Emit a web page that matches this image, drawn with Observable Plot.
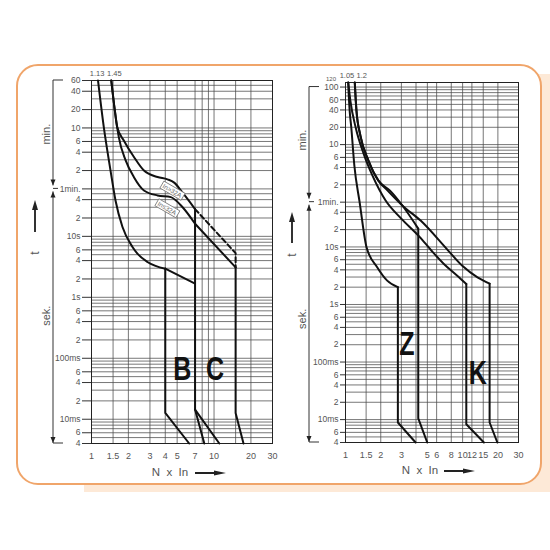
<!DOCTYPE html>
<html>
<head>
<meta charset="utf-8">
<script src="https://cdn.jsdelivr.net/npm/d3@7"></script>
<script src="https://cdn.jsdelivr.net/npm/@observablehq/plot@0.6"></script>
<style>
html,body{margin:0;padding:0;background:#fff;}
#wrap{position:relative;width:550px;height:550px;overflow:hidden;}
#shadow{position:absolute;left:84px;top:74px;width:466px;height:418px;background:#fde9d7;}
#box{position:absolute;left:16px;top:64px;width:526px;height:421px;box-sizing:border-box;border:2px solid #f0a56a;border-radius:22px;background:#fff;}
.chart{position:absolute;top:0;}
.chart svg{max-width:none;}
</style>
</head>
<body>
<div id="wrap"><div id="shadow"></div><div id="box"></div></div>
<script>
const FONT = '"Liberation Sans Narrow","Arial Narrow","Liberation Sans",Arial,sans-serif';
const BOLDFONT = '"Liberation Sans",Arial,sans-serif';
const INK = "#111";
const GRID = "#4a4a4a";
const LABEL = "#555";

// ================= Left chart: characteristics B and C =================
const BC_xTicks = [1, 1.5, 2, 3, 4, 5, 7, 10, 20, 30];
const BC_xGrid = [1, 1.5, 2, 3, 4, 5, 7, 8, 9, 10, 15, 20, 30];
const BC_yTicks = [3600, 2400, 1200, 600, 360, 240, 120, 60, 40, 20, 10, 6, 4, 2, 1, 0.6, 0.4, 0.2, 0.1, 0.06, 0.04, 0.02, 0.01, 0.006, 0.004];
const BC_yTickLabels = ["60","40","20","10","6","4","2","1min.","4","2","10s","6","4","2","1s","6","4","2","100ms","6","4","2","10ms","6","4"];
const BC_yGrid = [3600, 3000, 2400, 1800, 1200, 600, 540, 480, 420, 360, 300, 240, 180, 120, 60, 50, 40, 30, 20, 10, 9, 8, 7, 6, 5, 4, 3, 2, 1, 0.9, 0.8, 0.7, 0.6, 0.5, 0.4, 0.3, 0.2, 0.1, 0.09, 0.08, 0.07, 0.06, 0.05, 0.04, 0.03, 0.02, 0.01, 0.009, 0.008, 0.007, 0.006, 0.005, 0.004];

// thermal (smooth) parts, N = multiple of In, t in seconds
const BC_low_N = [1.13, 1.26, 1.43, 1.57, 1.79, 2.16, 2.37, 2.86, 4];
const BC_low_t = [3600, 617, 120, 38.8, 14.2, 6.7, 5.2, 3.8, 2.95];
const BC_upHi_N = [1.45, 1.55, 1.62, 1.84, 2.22, 2.68, 3.46, 4.17, 4.73, 5.54, 7];
const BC_upHi_t = [3600, 1160, 620, 370, 200, 120, 94, 86, 76, 52, 28];
const BC_upLo_N = [1.45, 1.55, 1.62, 1.67, 1.90, 2.22, 2.68, 3.46, 4.44, 5.54, 7];
const BC_upLo_t = [3600, 1160, 618, 423, 176, 93.6, 56.6, 46.9, 44, 30, 16.1];
// straight parts
const BC_lowExt_N = [4, 7];          const BC_lowExt_t = [2.95, 1.67];
const BC_upLoExt_N = [7, 15];        const BC_upLoExt_t = [16.1, 3.1];
const BC_Bleft_N = [4, 4, 6.27];     const BC_Bleft_t = [2.95, 0.0127, 0.004];
const BC_mid_N = [7, 7, 8.33];       const BC_mid_t = [28, 0.0144, 0.004];
const BC_midDiag_N = [7, 11.05];     const BC_midDiag_t = [0.0144, 0.004];
const BC_Cright_N = [15, 15, 17.4];  const BC_Cright_t = [3.1, 0.0127, 0.004];
// dashed part
const BC_upHiExt_N = [7, 15, 15];    const BC_upHiExt_t = [28, 5.3, 3.1];
// letters and labels
const BC_letters = ["B", "C"];
const BC_letters_N = [5.57, 10.3];
const BC_letters_t = [0.068, 0.068];
const BC_startLabels = ["1.13", "1.45"];
const BC_start_N = [1.13, 1.45];
const BC_start_dx = [-1, 3];
const BC_boxLabels = ["In>32A", "In≤32A"];
const BC_box_N = [4.59, 4.17];
const BC_box_t = [55, 28.3];

// ================= Right chart: characteristics Z and K =================
const ZK_xTicks = [1, 1.5, 2, 3, 5, 6, 8, 10, 12, 15, 20, 30];
const ZK_xGrid = [1, 1.5, 2, 3, 4, 5, 6, 8, 10, 12, 15, 20, 30];
const ZK_yTicks = [6000, 3600, 2400, 1200, 600, 360, 240, 120, 60, 40, 20, 10, 6, 4, 2, 1, 0.6, 0.4, 0.2, 0.1, 0.06, 0.04, 0.02, 0.01, 0.006, 0.004];
const ZK_yTickLabels = ["100","60","40","20","10","6","4","2","1min.","4","2","10s","6","4","2","1s","6","4","2","100ms","6","4","2","10ms","6","4"];
const ZK_yGrid = [7200, 6000, 5400, 4800, 4200, 3600, 3000, 2400, 1800, 1200, 600, 540, 480, 420, 360, 300, 240, 180, 120, 60, 50, 40, 30, 20, 10, 9, 8, 7, 6, 5, 4, 3, 2, 1, 0.9, 0.8, 0.7, 0.6, 0.5, 0.4, 0.3, 0.2, 0.1, 0.09, 0.08, 0.07, 0.06, 0.05, 0.04, 0.03, 0.02, 0.01, 0.009, 0.008, 0.007, 0.006, 0.005, 0.004];

const Z_low_N = [1.055, 1.065, 1.085, 1.12, 1.19, 1.32, 1.51, 1.87, 2.27, 2.8];
const Z_low_t = [7200, 4600, 2345, 1200, 260, 60, 10, 4.4, 2.6, 2.0];
const Z_up_N = [1.2, 1.24, 1.34, 1.57, 1.91, 2.4, 3.07, 4.18];
const Z_up_t = [7200, 2345, 860, 317, 142, 95, 52, 20.8];
const K_low_N = [1.055, 1.10, 1.22, 1.43, 1.70, 2.20, 2.95, 4.29, 5.43, 6.92, 9.0, 10.75];
const K_low_t = [7200, 3500, 1200, 414, 173, 64, 32, 15, 8.6, 5.06, 3.16, 2.27];
const K_up_N = [1.2, 1.24, 1.34, 1.57, 1.91, 2.29, 3.07, 4.38, 7.4, 9.94, 13.4, 17.0];
const K_up_t = [7200, 2345, 860, 317, 142, 95, 52, 28.7, 9.0, 4.7, 2.96, 2.3];
const Z_lowMag_N = [2.8, 2.8, 3.97];    const Z_lowMag_t = [2.0, 0.0089, 0.004];
const Z_upMag_N = [4.18, 4.18, 4.99];   const Z_upMag_t = [20.8, 0.0105, 0.004];
const K_lowMag_N = [10.75, 10.75, 15.2]; const K_lowMag_t = [2.27, 0.0083, 0.004];
const K_upMag_N = [17, 17, 19.8];       const K_upMag_t = [2.3, 0.0089, 0.004];
const ZK_letters = ["Z", "K"];
const ZK_letters_N = [3.37, 13.6];
const ZK_letters_t = [0.208, 0.066];
const ZK_startLabels = ["1.05", "1.2"];
const ZK_start_N = [1.05, 1.2];
const ZK_start_dx = [-1, 7];

// ---------------------------------------------------------------
function rows(list) {
  return list.flatMap(([id, N, t]) => N.map((n, i) => ({id, N: n, t: t[i]})));
}

function chart(cfg) {
  const yLab = cfg.yTicks.map((v, i) => ({v, s: cfg.yLabels[i]}));
  const starts = cfg.startLabels.map((s, i) => ({s, N: cfg.startN[i], dx: cfg.startDx[i]}));
  return Plot.plot({
    width: cfg.width, height: 490,
    marginLeft: cfg.ml, marginRight: cfg.mr, marginTop: cfg.mt, marginBottom: cfg.mb,
    x: {type: "log", domain: [1, 30]},
    y: {type: "log", domain: cfg.yDomain},
    style: {background: "transparent", overflow: "visible", fontFamily: FONT},
    marks: [
      Plot.ruleY(cfg.yGrid, {stroke: GRID, strokeWidth: 0.75}),
      Plot.ruleX(cfg.xGrid, {stroke: GRID, strokeWidth: 0.75}),
      Plot.frame({stroke: "#222", strokeWidth: 1}),
      Plot.axisY({ticks: cfg.yTicks, tickFormat: () => "", tickSize: cfg.tickSize, stroke: "#333", label: null}),
      Plot.text(yLab, {y: "v", text: "s", frameAnchor: "left", dx: -(cfg.tickSize + 2), textAnchor: "end",
        fontSize: 8.5, fill: LABEL, fontFamily: FONT}),
      Plot.axisX({ticks: cfg.xTicks, tickFormat: d => String(d), tickSize: 0, tickPadding: 9,
        fontSize: 9, fontFamily: FONT, fill: LABEL, label: null}),
      Plot.line(cfg.thermal, {x: "N", y: "t", z: "id", curve: "monotone-x", stroke: INK, strokeWidth: 2}),
      Plot.line(cfg.straight, {x: "N", y: "t", z: "id", stroke: INK, strokeWidth: 2}),
      Plot.line(cfg.dashed, {x: "N", y: "t", z: "id", stroke: INK, strokeWidth: 2, strokeDasharray: "5,3"}),
      ...starts.map(d => Plot.text([d], {x: "N", y: cfg.yDomain[1], text: "s", dx: d.dx, dy: -7,
        fontSize: 7.5, fill: LABEL, fontFamily: FONT}))
    ]
  });
}

function decorate(plot, o) {
  const X = plot.scale("x"), Y = plot.scale("y");
  const sx = v => X.apply(v), sy = v => Y.apply(v);
  const svg = d3.select(plot);
  const g = svg.append("g");
  const x0 = sx(1), yTop = sy(o.topT), yMin = sy(60), yBot = sy(0.004);
  const bx = x0 + o.bracketDx;
  const line = (x1, y1, x2, y2, w = 1) => g.append("line").attr("x1", x1).attr("y1", y1).attr("x2", x2).attr("y2", y2)
    .attr("stroke", "#333").attr("stroke-width", w);
  const head = (x, y, dir, w, h) => { // tip at (x,y)
    let d;
    if (dir === "down") d = `M${x - w / 2},${y - h}L${x + w / 2},${y - h}L${x},${y}Z`;
    else if (dir === "up") d = `M${x - w / 2},${y + h}L${x + w / 2},${y + h}L${x},${y}Z`;
    else d = `M${x - h},${y - w / 2}L${x - h},${y + w / 2}L${x},${y}Z`;
    g.append("path").attr("d", d).attr("fill", "#222");
  };
  const text = (x, y, s, size, rot = 0, anchor = "middle", fill = "#555") =>
    g.append("text").attr("transform", `translate(${x},${y}) rotate(${rot})`).attr("text-anchor", anchor)
      .attr("dy", "0.35em").attr("font-size", size).attr("font-family", FONT).attr("fill", fill).text(s);

  // min. / sek. brackets
  line(bx, yTop, bx + 10, yTop);
  line(bx, yTop, bx, yMin - 3);
  head(bx, yMin - 3, "down", 5, 6);
  line(bx, yMin, bx + 5, yMin);
  line(bx, yMin + 3, bx, yBot);
  head(bx, yMin + 3, "up", 5, 6);
  head(bx, yBot, "down", 5, 6);
  line(bx, yBot, bx + 10, yBot);
  text(bx - 7, (yTop + yMin) / 2 + o.minShift, "min.", 11, -90);
  text(bx - 7, (yMin + yBot) / 2 + o.sekShift, "sek.", 11, -90);

  // t arrow
  line(o.tX, o.tTail, o.tX, o.tTip + 8, 2);
  head(o.tX, o.tTip, "up", 6, 10);
  text(o.tX, o.tLabel, "t", 12, -90);

  // N x In arrow
  text(o.nxX, o.nxY, "N  x  In", 11.5, 0, "middle", "#555");
  g.append("line").attr("x1", o.arrX1).attr("y1", o.nxY + 1).attr("x2", o.arrX2 - 8).attr("y2", o.nxY + 1)
    .attr("stroke", "#222").attr("stroke-width", 2);
  head(o.arrX2, o.nxY + 1, "right", 5, 12);

  // big characteristic letters (condensed bold)
  o.letters.forEach((s, i) => {
    g.append("text")
      .attr("transform", `translate(${sx(o.lettersN[i])},${sy(o.lettersT[i])}) scale(0.76,1)`)
      .attr("text-anchor", "middle").attr("dy", "0.36em").attr("font-size", 33).attr("font-weight", "bold")
      .attr("font-family", BOLDFONT).attr("fill", INK).text(s);
  });

  // small extra labels
  (o.extra || []).forEach(e => text(x0 + e.dx, sy(e.t) + e.dy, e.s, e.size, 0, "middle", "#555"));

  // boxed labels
  (o.boxes || []).forEach(b => {
    const gb = g.append("g").attr("transform", `translate(${sx(b.N)},${sy(b.t)}) rotate(30)`);
    const tx = gb.append("text").attr("text-anchor", "middle").attr("dy", "0.35em").attr("font-size", 6.5)
      .attr("font-family", FONT).attr("fill", "#666").text(b.s);
    const bb = tx.node().getBBox();
    gb.insert("rect", "text").attr("x", bb.x - 1.5).attr("y", bb.y - 0.5).attr("width", bb.width + 3)
      .attr("height", bb.height + 1).attr("fill", "#fff").attr("stroke", "#777").attr("stroke-width", 0.8);
  });
}

const wrap = document.getElementById("wrap");

const leftPlot = chart({
  width: 290, ml: 91, mr: 18, mt: 80, mb: 47, yDomain: [0.004, 3600], tickSize: 9,
  xTicks: BC_xTicks, xGrid: BC_xGrid, yTicks: BC_yTicks, yLabels: BC_yTickLabels, yGrid: BC_yGrid,
  thermal: rows([["low", BC_low_N, BC_low_t], ["upHi", BC_upHi_N, BC_upHi_t], ["upLo", BC_upLo_N, BC_upLo_t]]),
  straight: rows([["lowExt", BC_lowExt_N, BC_lowExt_t], ["upLoExt", BC_upLoExt_N, BC_upLoExt_t],
    ["Bleft", BC_Bleft_N, BC_Bleft_t], ["mid", BC_mid_N, BC_mid_t], ["midDiag", BC_midDiag_N, BC_midDiag_t],
    ["Cright", BC_Cright_N, BC_Cright_t]]),
  dashed: rows([["upHiExt", BC_upHiExt_N, BC_upHiExt_t]]),
  startLabels: BC_startLabels, startN: BC_start_N, startDx: BC_start_dx
});
const leftDiv = document.createElement("div");
leftDiv.className = "chart"; leftDiv.style.left = "0px"; leftDiv.style.width = "290px";
leftDiv.appendChild(leftPlot); wrap.appendChild(leftDiv);
decorate(leftPlot, {
  topT: 3600, bracketDx: -38, minShift: 0, sekShift: 0,
  tX: 35, tTip: 200, tTail: 232, tLabel: 253,
  nxX: 170, nxY: 472, arrX1: 195, arrX2: 226,
  letters: BC_letters, lettersN: BC_letters_N, lettersT: BC_letters_t,
  boxes: BC_boxLabels.map((s, i) => ({s, N: BC_box_N[i], t: BC_box_t[i]}))
});

const rightPlot = chart({
  width: 260, ml: 65, mr: 22, mt: 82, mb: 48, yDomain: [0.004, 7200], tickSize: 5,
  xTicks: ZK_xTicks, xGrid: ZK_xGrid, yTicks: ZK_yTicks, yLabels: ZK_yTickLabels, yGrid: ZK_yGrid,
  thermal: rows([["Zlow", Z_low_N, Z_low_t], ["Zup", Z_up_N, Z_up_t], ["Klow", K_low_N, K_low_t], ["Kup", K_up_N, K_up_t]]),
  straight: rows([["ZlowM", Z_lowMag_N, Z_lowMag_t], ["ZupM", Z_upMag_N, Z_upMag_t],
    ["KlowM", K_lowMag_N, K_lowMag_t], ["KupM", K_upMag_N, K_upMag_t]]),
  dashed: [],
  startLabels: ZK_startLabels, startN: ZK_start_N, startDx: ZK_start_dx
});
const rightDiv = document.createElement("div");
rightDiv.className = "chart"; rightDiv.style.left = "280px"; rightDiv.style.width = "260px";
rightDiv.appendChild(rightPlot); wrap.appendChild(rightDiv);
decorate(rightPlot, {
  topT: 6000, bracketDx: -36, minShift: -4, sekShift: -3,
  tX: 12, tTip: 212, tTail: 243, tLabel: 255,
  nxX: 140, nxY: 470, arrX1: 164, arrX2: 195,
  letters: ZK_letters, lettersN: ZK_letters_N, lettersT: ZK_letters_t,
  extra: [{s: "120", t: 7200, dx: -14, dy: -3, size: 6}]
});
</script>
</body>
</html>
